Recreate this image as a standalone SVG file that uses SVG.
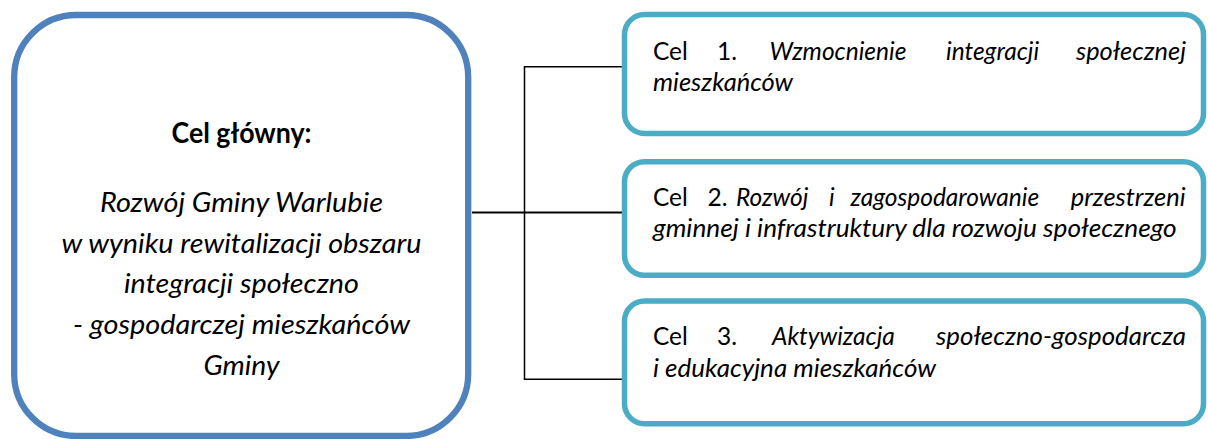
<svg xmlns="http://www.w3.org/2000/svg" width="1208" height="439" viewBox="0 0 1208 439">
  <style>
    .main { fill: #ffffff; stroke: #4F81BD; stroke-width: 6.3; }
    .goal { fill: #ffffff; stroke: #4BACC6; stroke-width: 5.5; }
    .conn { fill: none; stroke: #000000; stroke-width: 1.5; }
    .lt { font-family: Lato, "Liberation Sans", sans-serif; font-size: 27.7px; fill: #000000; text-anchor: middle; }
    .rt { font-family: Lato, "Liberation Sans", sans-serif; font-size: 24.5px; fill: #000000; }
    .it { font-style: italic; }
    .b { font-weight: bold; }
    .end { text-anchor: end; }
  </style>
  <rect width="1208" height="439" fill="#ffffff"/>
  <g id="connectors">
    <line class="conn" x1="472" y1="212.5" x2="622" y2="212.5" style="stroke-width:2"/>
    <line class="conn" x1="524.5" y1="66.7" x2="524.5" y2="379.3"/>
    <line class="conn" x1="523.8" y1="66.7" x2="622" y2="66.7"/>
    <line class="conn" x1="523.8" y1="379.3" x2="622" y2="379.3"/>
  </g>
  <g id="main-goal">
    <rect class="main" x="14.2" y="15" width="454" height="421" rx="62" ry="62"/>
    <text class="lt b" x="241.5" y="143.3" textLength="140" lengthAdjust="spacingAndGlyphs">Cel główny:</text>
    <text class="lt it" x="241.5" y="211.7" textLength="283" lengthAdjust="spacingAndGlyphs">Rozwój Gminy Warlubie</text>
    <text class="lt it" x="241.5" y="252.5" textLength="360" lengthAdjust="spacingAndGlyphs">w wyniku rewitalizacji obszaru</text>
    <text class="lt it" x="241.5" y="293.3" textLength="235" lengthAdjust="spacingAndGlyphs">integracji społeczno</text>
    <text class="lt it" x="241.5" y="334.1" textLength="337" lengthAdjust="spacingAndGlyphs">- gospodarczej mieszkańców</text>
    <text class="lt it" x="241.5" y="374.9" textLength="76" lengthAdjust="spacingAndGlyphs">Gminy</text>
  </g>
  <g id="goal-1">
    <rect class="goal" x="624.5" y="14.5" width="579" height="119" rx="20" ry="20"/>
    <text class="rt" y="59.5"><tspan x="653">Cel</tspan><tspan x="717">1.</tspan><tspan class="it" x="769.5">Wzmocnienie</tspan><tspan class="it" x="946">integracji</tspan></text>
    <text class="rt it" x="1076" y="59.5" textLength="110" lengthAdjust="spacingAndGlyphs">społecznej</text>
    <text class="rt it" x="653" y="90.5" textLength="140" lengthAdjust="spacingAndGlyphs">mieszkańców</text>
  </g>
  <g id="goal-2">
    <rect class="goal" x="624.5" y="161.7" width="579" height="113.6" rx="20" ry="20"/>
    <text class="rt" y="206"><tspan x="653">Cel</tspan><tspan x="707.6">2.</tspan><tspan class="it" x="736">Rozwój</tspan><tspan class="it" x="829">i</tspan><tspan class="it" x="850.5">zagospodarowanie</tspan></text>
    <text class="rt it" x="1070.7" y="206" textLength="115" lengthAdjust="spacingAndGlyphs">przestrzeni</text>
    <text class="rt it" x="653" y="236.5" textLength="523.7" lengthAdjust="spacingAndGlyphs">gminnej i infrastruktury dla rozwoju społecznego</text>
  </g>
  <g id="goal-3">
    <rect class="goal" x="624.5" y="301" width="579" height="122.7" rx="20" ry="20"/>
    <text class="rt" y="345"><tspan x="653">Cel</tspan><tspan x="717">3.</tspan><tspan class="it" x="772">Aktywizacja</tspan></text>
    <text class="rt it" x="936" y="345" textLength="250" lengthAdjust="spacingAndGlyphs">społeczno-gospodarcza</text>
    <text class="rt it" x="653" y="376.5" textLength="283" lengthAdjust="spacingAndGlyphs">i edukacyjna mieszkańców</text>
  </g>
</svg>
